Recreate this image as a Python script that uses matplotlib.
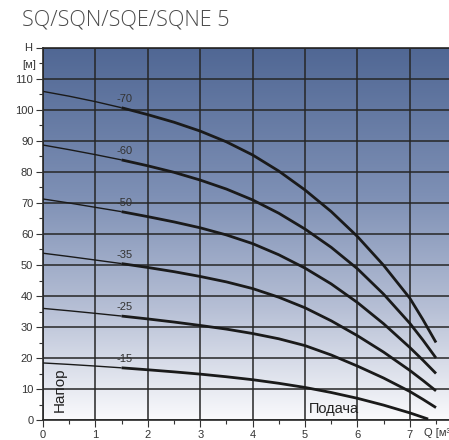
import numpy as np
import matplotlib
matplotlib.use("Agg")
import matplotlib.pyplot as plt
from matplotlib.colors import LinearSegmentedColormap

plt.rcParams['font.family'] = ['Liberation Sans', 'DejaVu Sans']

# flow Q [m3/h]
q = [0, 0.5, 1, 1.5, 2, 2.5, 3, 3.5, 4, 4.5, 5, 5.5, 6, 6.5, 7, 7.25, 7.5]
q15 = [0, 0.5, 1, 1.5, 2, 2.5, 3, 3.5, 4, 4.5, 5, 5.5, 6, 6.5, 7, 7.35]
# head H [m] for each pump size
h70 = [106.0, 104.45, 102.7, 100.73, 98.5, 96.06, 93.2, 89.73, 85.5, 80.3, 74.2, 67.24, 59.2, 49.9, 39.3, 32.4, 25.0]
h60 = [88.7, 87.2, 85.6, 83.9, 82.0, 79.9, 77.4, 74.5, 71.0, 66.7, 61.6, 55.7, 48.8, 40.6, 31.2, 25.8, 20.0]
h50 = [71.3, 70.0, 68.6, 67.2, 65.6, 63.9, 62.0, 59.7, 56.9, 53.3, 49.0, 43.9, 37.9, 31.05, 23.4, 19.3, 15.0]
h35 = [53.8, 52.73, 51.6, 50.45, 49.2, 47.85, 46.3, 44.55, 42.4, 39.6, 36.2, 32.0, 27.2, 21.9, 16.0, 12.77, 9.4]
h25 = [36.0, 35.23, 34.4, 33.53, 32.6, 31.6, 30.5, 29.32, 27.9, 26.2, 24.0, 20.97, 17.4, 13.54, 9.2, 6.67, 4.0]
h15 = [18.4, 17.93, 17.4, 16.83, 16.2, 15.53, 14.8, 13.95, 13.0, 11.84, 10.5, 8.87, 7.0, 4.8, 2.3, 0.3]

curves = [("-70", q, h70), ("-60", q, h60), ("-50", q, h50),
          ("-35", q, h35), ("-25", q, h25), ("-15", q15, h15)]

yticks = list(range(0, 121, 10))
ytick_labels = [str(v) for v in range(0, 111, 10)] + [""]
xticks = list(range(0, 8))

fig = plt.figure(figsize=(4.49, 4.40), dpi=100)
ax = fig.add_axes([43 / 449, 20 / 440, 406 / 449, 372 / 440])
ax.set_xlim(0, 406 / 52.4)
ax.set_ylim(0, 120)

# background gradient
cmap = LinearSegmentedColormap.from_list("bg", [
    (0.0, (80/255, 103/255, 148/255)),
    (0.4, (126/255, 144/255, 181/255)),
    (0.7, (182/255, 191/255, 213/255)),
    (1.0, (250/255, 250/255, 252/255)),
])
grad = np.linspace(0, 1, 256).reshape(-1, 1)
ax.imshow(grad, cmap=cmap, aspect='auto', extent=[0, 406 / 52.4, 0, 120],
          origin='upper', zorder=0)

for name, xs, h in curves:
    i = xs.index(1.5)
    ax.plot(xs[:i + 1], h[:i + 1], color='#1a1a1a', lw=1.0, zorder=3,
            solid_capstyle='butt')
    ax.plot(xs[i:], h[i:], color='#1a1a1a', lw=2.0, zorder=3,
            solid_capstyle='butt', solid_joinstyle='round')
    ax.text(1.56, h[i] + 2.8, name, fontsize=8, color='#333333',
            ha='center', va='center', zorder=4)

ax.set_yticks(yticks, labels=ytick_labels)
ax.set_yticks(list(range(5, 120, 10)), labels=[""] * 11 + ["[м]"], minor=True)
ax.set_xticks(xticks, labels=[str(v) for v in xticks])
ax.set_xticks([v + 0.5 for v in xticks], minor=True)
ax.tick_params(which='major', length=5, width=0.8, labelsize=8,
               colors='#333333', pad=2)
ax.tick_params(which='minor', length=3, width=0.8, labelsize=8,
               colors='#333333', pad=2)
ax.grid(which='major', color='#262626', lw=1.1, zorder=2)
ax.set_axisbelow(False)

for s in ['left', 'bottom', 'top']:
    ax.spines[s].set_color('#262626')
    ax.spines[s].set_linewidth(1.2)
ax.spines['right'].set_visible(False)

ax.annotate("H", xy=(0, 120), xycoords=('axes fraction', 'data'),
            xytext=(-11, 0), textcoords='offset points',
            ha='center', va='center', fontsize=8, color='#333333')
ax.annotate("Q [м³", xy=(7.27, 0), xycoords='data',
            xytext=(0, -9), textcoords='offset points',
            ha='left', va='center', fontsize=8, color='#333333',
            annotation_clip=False)

ax.text(0.32, 9.7, "Напор", rotation=90, fontsize=11, color='#222222',
        ha='center', va='center', zorder=4)
ax.text(5.55, 3.6, "Подача", fontsize=10.5, color='#222222',
        ha='center', va='center', zorder=4)

fig.text(22 / 449, 1 - 20 / 440, "SQ/SQN/SQE/SQNE 5", fontsize=15.5,
         family=['Open Sans', 'DejaVu Sans'], fontweight='light',
         color='#4a4a4a', ha='left', va='center')

fig.savefig("out.png", dpi=100)
